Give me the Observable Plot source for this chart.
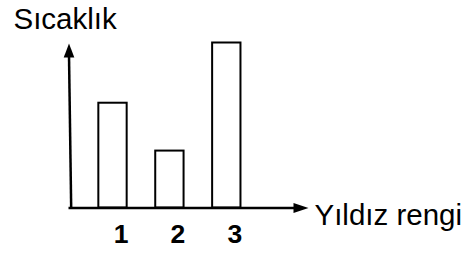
<!DOCTYPE html>
<html><head><meta charset="utf-8">
<script src="https://cdn.jsdelivr.net/npm/d3@7"></script>
<script src="https://cdn.jsdelivr.net/npm/@observablehq/plot@0.6"></script>
<style>html,body{margin:0;padding:0;background:#fff}</style>
</head><body><div id="chart"></div>
<script>
const categories = [1, 2, 3];
const temperatures = [6.35, 3.45, 10];
const tickLabels = ["1", "2", "3"];
const yAxisTitle = "Sıcaklık";
const xAxisTitle = "Yıldız rengi";

const data = categories.map((c, i) => ({c, t: temperatures[i], label: tickLabels[i]}));
const half = 0.249;
const arrowUp = {draw(ctx) { ctx.moveTo(0, 0); ctx.lineTo(-5.3, 14); ctx.lineTo(5.3, 14); ctx.closePath(); }};
const arrowRight = {draw(ctx) { ctx.moveTo(0, 0); ctx.lineTo(-5, 15); ctx.lineTo(5, 15); ctx.closePath(); }};

const chart = Plot.plot({
  width: 472, height: 253,
  marginLeft: 112.5, marginRight: 245.7, marginTop: 42.5, marginBottom: 45.5,
  x: {type: "linear", domain: [1, 3], axis: null},
  y: {type: "linear", domain: [0, 10], axis: null},
  style: {fontFamily: "'Liberation Sans', Arial, sans-serif", background: "white", color: "black", overflow: "visible"},
  marks: [
    Plot.rect(data, {x1: d => d.c - half, x2: d => d.c + half, y1: 0, y2: "t", fill: "white", stroke: "black", strokeWidth: 2}),
    Plot.link([0], {x1: 0.265, y1: 0, x2: 0.227, y2: 9.2, stroke: "black", strokeWidth: 2.5}),
    Plot.link([0], {x1: 0.218, y1: 0, x2: 4.2, y2: 0, stroke: "black", strokeWidth: 2.5}),
    Plot.dot([0], {x: 0.227, y: 9.97, symbol: arrowUp, fill: "black", stroke: "none"}),
    Plot.dot([0], {x: 4.436, y: 0, symbol: arrowRight, rotate: 90, fill: "black", stroke: "none"}),
    Plot.text(data, {x: "c", y: -1.6, text: "label", dx: 8, fontSize: 26.5, fontWeight: "bold", fill: "black"}),
    Plot.text([yAxisTitle], {x: -0.749, y: 11.43, text: d => d, textAnchor: "start", fontSize: 29.5, fill: "black"}),
    Plot.text([xAxisTitle], {x: 4.541, y: -0.43, text: d => d, textAnchor: "start", fontSize: 29.5, fill: "black"})
  ]
});
document.getElementById("chart").append(chart);
</script>
</body></html>
